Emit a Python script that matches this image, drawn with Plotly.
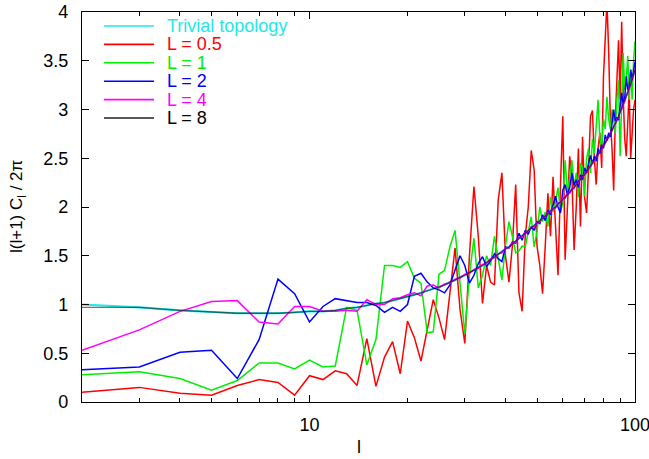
import plotly.graph_objects as go

ell = list(range(2, 101))

trivial = [1.00, 0.97, 0.94, 0.92, 0.91, 0.91, 0.91, 0.92, 0.93, 0.93,
           0.94, 0.96, 0.97, 0.99, 1.01, 1.02, 1.04, 1.06, 1.08, 1.10,
           1.12, 1.14, 1.16, 1.18, 1.20, 1.23, 1.25, 1.28, 1.30, 1.33,
           1.35, 1.38, 1.40, 1.43, 1.46, 1.49, 1.51, 1.54, 1.57, 1.59,
           1.62, 1.65, 1.68, 1.70, 1.73, 1.76, 1.78, 1.81, 1.83, 1.86,
           1.88, 1.91, 1.93, 1.96, 1.98, 2.00, 2.03, 2.05, 2.08, 2.10,
           2.13, 2.15, 2.18, 2.20, 2.23, 2.26, 2.29, 2.32, 2.33, 2.36,
           2.39, 2.42, 2.45, 2.48, 2.51, 2.54, 2.57, 2.60, 2.63, 2.66,
           2.69, 2.72, 2.75, 2.79, 2.82, 2.86, 2.89, 2.93, 2.97, 3.01,
           3.05, 3.09, 3.13, 3.17, 3.22, 3.26, 3.31, 3.36, 3.41]

L05 = [0.10, 0.15, 0.09, 0.07, 0.17, 0.23, 0.20, 0.07, 0.27, 0.23,
       0.32, 0.29, 0.17, 0.65, 0.16, 0.46, 0.62, 0.29, 0.83, 0.66,
       0.42, 0.75, 1.05, 0.86, 0.64, 1.12, 1.58, 0.95, 0.60, 1.50,
       2.21, 1.70, 1.01, 1.40, 1.23, 1.20, 2.07, 2.35, 1.50, 1.23,
       1.60, 2.23, 1.12, 0.93, 1.70, 2.00, 2.58, 2.38, 1.60, 1.40,
       1.11, 1.60, 2.14, 1.70, 2.31, 1.80, 1.30, 2.20, 2.93, 1.46,
       2.00, 2.52, 2.31, 1.56, 2.00, 2.60, 1.80, 2.72, 2.10, 1.94,
       2.40, 2.93, 2.99, 2.50, 2.23, 2.60, 2.76, 2.40, 3.34, 3.70,
       4.10, 3.60, 2.90, 2.60, 2.17, 2.90, 3.40, 3.71, 3.10, 3.90,
       3.13, 2.70, 2.52, 2.80, 3.20, 2.50, 2.76, 3.00, 3.10]

L1 = [0.28, 0.31, 0.24, 0.12, 0.22, 0.40, 0.40, 0.34, 0.43, 0.36,
      0.37, 0.97, 0.94, 0.38, 0.64, 1.40, 1.40, 1.38, 1.44, 1.27,
      1.22, 0.71, 0.72, 1.31, 1.35, 1.59, 1.76, 1.20, 0.70, 1.30,
      1.68, 1.17, 1.30, 1.50, 1.40, 1.70, 1.45, 1.25, 1.60, 1.85,
      1.70, 1.53, 1.55, 1.60, 1.59, 1.75, 1.90, 1.59, 1.75, 2.00,
      1.85, 1.95, 1.80, 2.10, 1.95, 2.05, 2.20, 1.95, 2.04, 2.48,
      2.15, 2.30, 2.48, 2.20, 2.35, 2.10, 2.45, 2.40, 2.11, 2.50,
      2.60, 2.35, 2.70, 2.55, 2.80, 3.10, 2.70, 2.60, 2.90, 2.80,
      3.13, 2.90, 2.80, 3.00, 2.90, 2.76, 3.10, 3.30, 2.52, 3.10,
      3.58, 3.20, 3.30, 3.55, 3.10, 3.40, 3.10, 3.50, 3.70]

L2 = [0.33, 0.36, 0.51, 0.53, 0.24, 0.64, 1.26, 1.11, 0.82, 0.98,
      1.06, 1.04, 1.02, 1.02, 0.99, 0.92, 0.97, 0.93, 1.00, 1.29,
      1.32, 1.23, 1.17, 1.15, 1.12, 1.20, 1.35, 1.50, 1.40, 1.22,
      1.30, 1.42, 1.49, 1.39, 1.45, 1.52, 1.47, 1.44, 1.59, 1.58,
      1.64, 1.63, 1.73, 1.66, 1.76, 1.72, 1.80, 1.76, 1.85, 1.83,
      1.92, 1.86, 1.97, 1.92, 2.02, 2.11, 2.00, 1.94, 2.17, 2.23,
      2.12, 2.20, 2.35, 2.22, 2.28, 2.20, 2.33, 2.28, 2.40, 2.35,
      2.45, 2.53, 2.44, 2.52, 2.47, 2.60, 2.55, 2.64, 2.60, 2.74,
      2.68, 2.76, 2.72, 2.85, 3.00, 2.88, 2.92, 2.89, 3.05, 3.17,
      3.05, 3.12, 3.34, 3.20, 3.24, 3.41, 3.30, 3.38, 3.49]

L4 = [0.53, 0.74, 0.93, 1.03, 1.04, 0.82, 0.80, 0.98, 0.98, 0.93,
      0.93, 0.94, 0.93, 1.05, 1.00, 1.00, 1.06, 1.07, 1.10, 1.12,
      1.09, 1.19, 1.20, 1.17, 1.21, 1.22, 1.26, 1.27, 1.31, 1.32,
      1.36, 1.37, 1.41, 1.42, 1.47, 1.48, 1.52, 1.53, 1.58, 1.58,
      1.63, 1.64, 1.69, 1.69, 1.74, 1.75, 1.79, 1.80, 1.84, 1.85,
      1.89, 1.90, 1.94, 1.95, 1.99, 1.99, 2.04, 2.04, 2.09, 2.09,
      2.14, 2.14, 2.19, 2.19, 2.24, 2.25, 2.30, 2.31, 2.34, 2.35,
      2.40, 2.41, 2.46, 2.47, 2.52, 2.53, 2.58, 2.59, 2.64, 2.65,
      2.70, 2.71, 2.76, 2.78, 2.83, 2.85, 2.90, 2.92, 2.98, 3.00,
      3.06, 3.08, 3.14, 3.16, 3.23, 3.25, 3.32, 3.35, 3.42]

L8 = [0.97, 0.97, 0.94, 0.92, 0.91, 0.91, 0.91, 0.92, 0.93, 0.93,
      0.94, 0.96, 0.97, 0.99, 1.01, 1.02, 1.04, 1.06, 1.08, 1.10,
      1.12, 1.14, 1.16, 1.18, 1.20, 1.23, 1.25, 1.28, 1.30, 1.33,
      1.35, 1.38, 1.40, 1.43, 1.46, 1.49, 1.51, 1.54, 1.57, 1.59,
      1.62, 1.65, 1.68, 1.70, 1.73, 1.76, 1.78, 1.81, 1.83, 1.86,
      1.88, 1.91, 1.93, 1.96, 1.98, 2.00, 2.03, 2.05, 2.08, 2.10,
      2.13, 2.15, 2.18, 2.20, 2.23, 2.26, 2.29, 2.32, 2.33, 2.36,
      2.39, 2.42, 2.45, 2.48, 2.51, 2.54, 2.57, 2.60, 2.63, 2.66,
      2.69, 2.72, 2.75, 2.79, 2.82, 2.86, 2.89, 2.93, 2.97, 3.01,
      3.05, 3.09, 3.13, 3.17, 3.22, 3.26, 3.31, 3.36, 3.41]

names = ["Trivial topology", "L = 0.5", "L = 1", "L = 2", "L = 4", "L = 8"]
values = [trivial, L05, L1, L2, L4, L8]
line_colors = ["#22e8e8", "#ff0000", "#00ee00", "#0000ff", "#ff00ff", "rgba(0,0,0,0.55)"]
line_widths = [2.2, 1.5, 1.5, 1.5, 1.5, 1.3]
text_colors = ["#22e8e8", "#ff0000", "#00ee00", "#0000ff", "#ff00ff", "#000000"]

x_major = [10, 100]
x_major_text = ["10", "100"]
x_minor = [2, 3, 4, 5, 6, 7, 8, 9, 20, 30, 40, 50, 60, 70, 80, 90]
y_ticks = [0, 0.5, 1, 1.5, 2, 2.5, 3, 3.5, 4]
y_labels = ["0", "0.5", "1", "1.5", "2", "2.5", "3", "3.5", "4"]

font = "Liberation Sans, Arial, Helvetica, sans-serif"
W, H = 649, 459
ML, MR, MT, MB = 82, 14, 12, 57
PW, PH = W - ML - MR, H - MT - MB

fig = go.Figure()
for name, vals, col, w in zip(names, values, line_colors, line_widths):
    fig.add_trace(go.Scatter(x=ell, y=vals, mode="lines", name=name,
                             line=dict(color=col, width=w), showlegend=False,
                             hoverinfo="skip"))

# key (legend) drawn in the top-left corner, gnuplot style
annotations = []
shapes = []
row_h = 18.4
for i, (name, tc) in enumerate(zip(names, text_colors)):
    ypix = 26 + i * row_h
    yp = (H - MB - ypix) / PH
    shapes.append(dict(type="line", xref="paper", yref="paper",
                       x0=(104 - ML) / PW, x1=(154 - ML) / PW, y0=yp, y1=yp,
                       line=dict(color=tc if i < 5 else "#222", width=1.6)))
    annotations.append(dict(text=name, xref="paper", yref="paper",
                            x=(165 - ML) / PW, y=yp, xanchor="left", yanchor="middle",
                            showarrow=False, font=dict(size=18, color=tc, family=font)))

annotations.append(dict(text="l", xref="paper", yref="paper", x=0.5, y=0,
                        xanchor="center", yanchor="top", yshift=-33, showarrow=False,
                        font=dict(size=18, family=font, color="#000")))
annotations.append(dict(text="l(l+1) C<sub>l</sub> / 2π", xref="paper", yref="paper",
                        x=0, y=0.5, xanchor="center", yanchor="middle", xshift=-64,
                        textangle=-90, showarrow=False,
                        font=dict(size=17, family=font, color="#000")))

fig.update_layout(
    width=W, height=H,
    margin=dict(l=ML, r=MR, t=MT, b=MB),
    paper_bgcolor="white", plot_bgcolor="white",
    font=dict(family=font, size=18, color="#000000"),
    showlegend=False,
    annotations=annotations,
    shapes=shapes,
    xaxis=dict(
        type="log", range=[0.30103, 2.0], automargin=False,
        tickmode="array", tickvals=x_major, ticktext=x_major_text,
        ticks="inside", ticklen=7, tickwidth=1, tickcolor="#000",
        ticklabelstandoff=6, ticklabeloverflow="allow",
        minor=dict(tickmode="array", tickvals=x_minor, ticks="inside",
                   ticklen=4, tickwidth=1, tickcolor="#000"),
        showline=True, linecolor="#000", linewidth=1.2, mirror="allticks",
        showgrid=False, zeroline=False,
    ),
    yaxis=dict(
        range=[0, 4], automargin=False,
        tickmode="array", tickvals=y_ticks, ticktext=y_labels,
        ticks="inside", ticklen=7, tickwidth=1, tickcolor="#000",
        ticklabelstandoff=9, ticklabeloverflow="allow",
        showline=True, linecolor="#000", linewidth=1.2, mirror="allticks",
        showgrid=False, zeroline=False,
    ),
)

fig.write_html("out.html", config={"displayModeBar": False},
               post_script="document.body.style.margin='0';document.body.style.padding='0';")
